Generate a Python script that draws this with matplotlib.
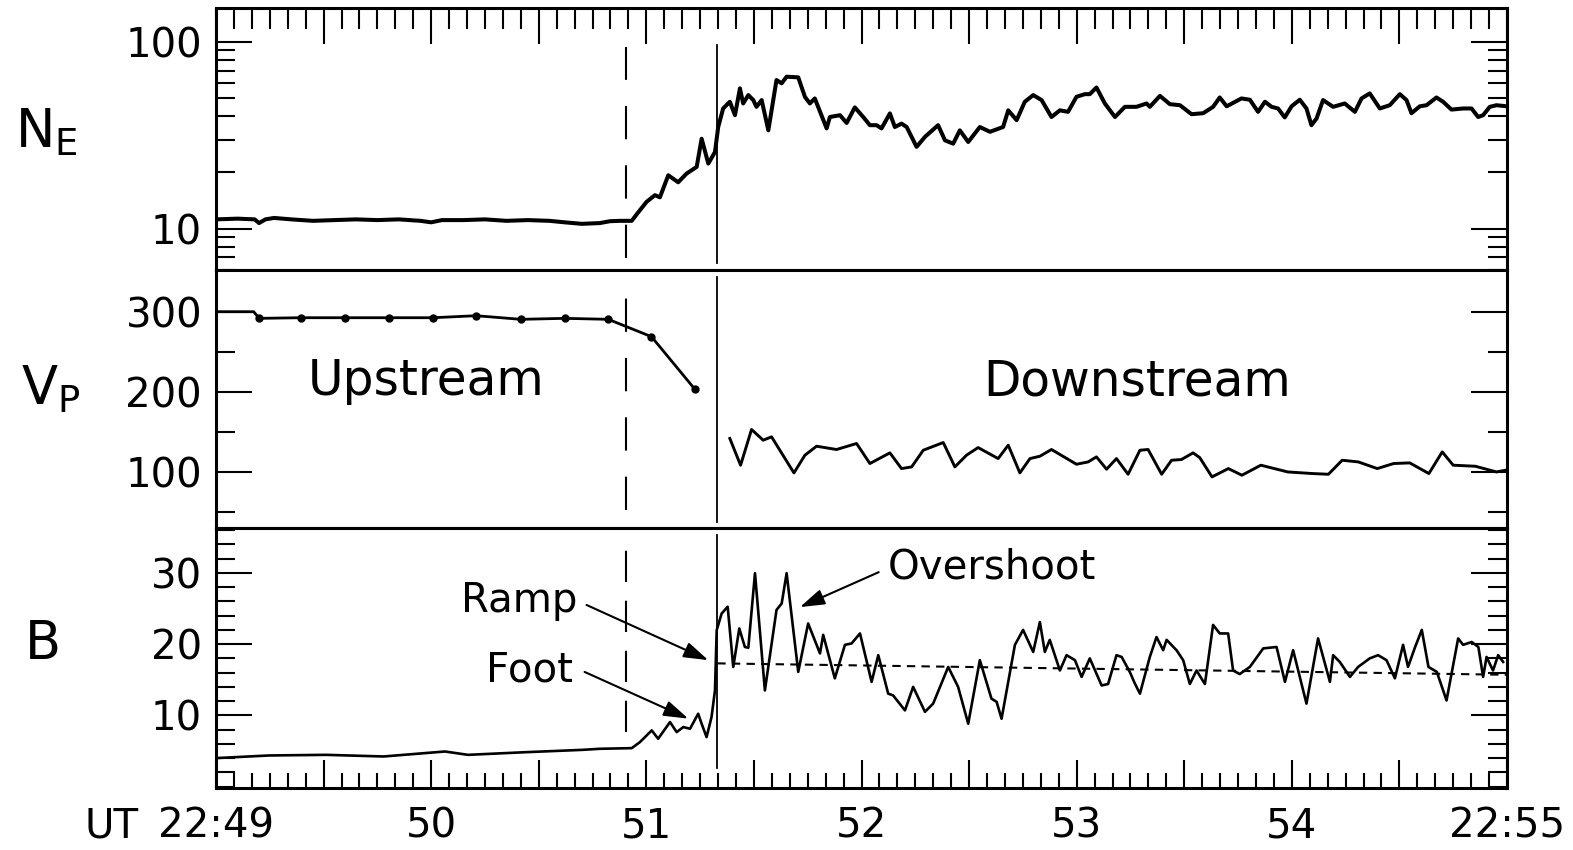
import matplotlib
matplotlib.use("Agg")
from matplotlib import pyplot as plt
from matplotlib.ticker import MultipleLocator, FixedLocator, NullFormatter, FuncFormatter

# time axis: minutes after 22:49 UT
FOOT_T = 1.905   # start of the foot (dashed line)
RAMP_T = 2.33    # shock ramp (solid line)

# electron density N_E
ne_t = [0.0, 0.10, 0.18, 0.20, 0.23, 0.27, 0.35, 0.45, 0.55, 0.65, 0.75, 0.85, 0.95, 1.00,
        1.05, 1.15, 1.25, 1.35, 1.45, 1.55, 1.62, 1.70, 1.784, 1.831, 1.877, 1.932,
        1.962, 2.001, 2.040, 2.063, 2.102, 2.148, 2.187, 2.234, 2.257, 2.288, 2.319, 2.334,
        2.357, 2.388, 2.412, 2.435, 2.450, 2.474, 2.497, 2.512, 2.536, 2.567, 2.605, 2.629,
        2.652, 2.706, 2.737, 2.760, 2.783, 2.838, 2.853, 2.900, 2.931, 2.969, 3.008, 3.039,
        3.070, 3.093, 3.132, 3.155, 3.186, 3.210, 3.256, 3.295, 3.356, 3.388, 3.426, 3.457,
        3.496, 3.550, 3.597, 3.658, 3.682, 3.721, 3.759, 3.798, 3.837, 3.883, 3.922, 3.960,
        3.999, 4.038, 4.061, 4.092, 4.131, 4.178, 4.224, 4.278, 4.325, 4.340, 4.387, 4.433,
        4.480, 4.534, 4.588, 4.634, 4.665, 4.697, 4.766, 4.805, 4.843, 4.875, 4.906, 4.936,
        4.967, 4.999, 5.037, 5.068, 5.091, 5.115, 5.145, 5.192, 5.246, 5.293, 5.324, 5.362,
        5.409, 5.455, 5.502, 5.533, 5.556, 5.595, 5.626, 5.672, 5.703, 5.742, 5.796, 5.835,
        5.866, 5.889, 5.920, 5.951, 6.0]
ne = [11.2, 11.3, 11.2, 10.7, 11.2, 11.4, 11.2, 11.0, 11.1, 11.2, 11.1, 11.2, 11.0, 10.8,
      11.1, 11.1, 11.2, 11.0, 11.1, 11.0, 10.8, 10.6, 10.7, 10.95, 11.0, 11.0,
      12.2, 13.9, 15.1, 14.7, 19.3, 17.7, 19.7, 21.4, 30.3, 22.3, 25.7, 35.0,
      44.0, 47.8, 40.5, 56.4, 46.8, 51.9, 48.8, 44.9, 48.8, 33.6, 62.5, 60.0,
      65.1, 64.6, 50.8, 46.8, 49.8, 34.4, 39.6, 40.5, 36.8, 44.6, 39.6, 35.8,
      35.8, 34.4, 41.4, 35.0, 36.5, 35.0, 27.4, 31.0, 35.8, 29.7, 28.5, 33.6,
      29.1, 35.0, 33.0, 35.0, 43.0, 38.1, 47.8, 51.9, 48.8, 39.6, 43.0, 42.2,
      50.8, 52.5, 52.5, 57.0, 46.8, 39.6, 44.9, 44.9, 46.8, 44.9, 51.4, 46.4,
      45.8, 41.0, 41.5, 44.9, 50.4, 45.2, 49.8, 49.0, 42.2, 47.8, 44.9, 44.0,
      39.4, 45.2, 49.0, 44.0, 35.8, 38.9, 48.8, 44.9, 46.8, 42.2, 49.8, 53.0,
      44.0, 45.8, 52.5, 48.8, 41.5, 45.2, 45.8, 50.4, 47.8, 43.4, 44.0, 44.0,
      39.6, 40.5, 44.9, 45.8, 45.2]

# proton velocity V_P upstream (dots are measurements)
vp_up_t = [0.0, 0.175, 0.201, 0.397, 0.601, 0.806, 1.010, 1.209, 1.416, 1.620, 1.823, 2.024, 2.225]
vp_up = [300, 300, 291.7, 292.5, 292.5, 292.5, 292.5, 295.0, 290.5, 291.7, 290.5, 268.8, 203.4]

# proton velocity downstream
vp_dn_t = [2.388, 2.438, 2.489, 2.543, 2.582, 2.686, 2.737, 2.791, 2.884, 2.977, 3.039, 3.132,
           3.186, 3.233, 3.287, 3.380, 3.434, 3.488, 3.542, 3.635, 3.682, 3.736, 3.783, 3.829,
           3.883, 3.999, 4.053, 4.092, 4.139, 4.185, 4.239, 4.294, 4.332, 4.395, 4.441, 4.487,
           4.541, 4.572, 4.629, 4.705, 4.768, 4.856, 4.981, 5.095, 5.170, 5.234, 5.309, 5.397,
           5.473, 5.548, 5.637, 5.699, 5.750, 5.853, 5.951, 5.99]
vp_dn = [141.8, 108.4, 153.0, 139.6, 143.8, 98.8, 120.9, 132.1, 128.0, 135.5, 110.5, 123.8,
         104.2, 106.3, 127.1, 136.7, 106.3, 120.9, 130.4, 116.7, 133.4, 98.8, 116.7, 119.6,
         128.0, 109.6, 112.5, 118.8, 103.4, 116.7, 97.1, 127.1, 128.0, 97.1, 114.6, 115.5,
         123.8, 117.9, 93.8, 104.2, 95.9, 108.4, 100.0, 98.0, 97.1, 114.6, 112.5, 104.2,
         110.5, 111.3, 98.0, 125.0, 108.4, 107.1, 100.0, 102.0]

# magnetic field B
b_t = [0.0, 0.246, 0.511, 0.779, 1.064, 1.171, 1.437, 1.704, 1.784, 1.932, 1.970, 2.025,
       2.055, 2.110, 2.141, 2.172, 2.203, 2.241, 2.257, 2.280, 2.303, 2.319, 2.327, 2.350,
       2.378, 2.404, 2.432, 2.458, 2.474, 2.505, 2.551, 2.605, 2.629, 2.652, 2.706, 2.752,
       2.807, 2.822, 2.876, 2.923, 2.954, 2.993, 3.047, 3.078, 3.124, 3.147, 3.202, 3.240,
       3.295, 3.333, 3.403, 3.449, 3.496, 3.550, 3.604, 3.628, 3.651, 3.713, 3.751, 3.798,
       3.829, 3.852, 3.875, 3.922, 3.953, 3.992, 4.023, 4.061, 4.116, 4.146, 4.185, 4.209,
       4.247, 4.270, 4.294, 4.340, 4.371, 4.402, 4.418, 4.464, 4.495, 4.526, 4.557, 4.596,
       4.634, 4.665, 4.704, 4.727, 4.758, 4.805, 4.867, 4.929, 4.968, 5.006, 5.068, 5.122,
       5.177, 5.192, 5.223, 5.270, 5.308, 5.362, 5.401, 5.440, 5.479, 5.517, 5.540, 5.573,
       5.604, 5.635, 5.674, 5.719, 5.773, 5.796, 5.836, 5.867, 5.889, 5.905, 5.935, 5.959,
       5.982]
b = [4.0, 4.37, 4.46, 4.23, 4.93, 4.46, 4.83, 5.16, 5.31, 5.4, 6.24, 7.89,
     6.72, 9.06, 7.65, 8.36, 8.12, 10.23, 8.83, 6.95, 9.77, 13.5, 21.97, 24.3,
     25.25, 16.8, 22.2, 19.6, 19.5, 29.96, 13.5, 24.8, 25.7, 29.96, 16.1, 22.9,
     18.7, 21.3, 15.2, 19.9, 20.1, 21.5, 14.7, 18.45, 13.05, 12.8, 10.7, 14.0,
     10.5, 11.65, 16.8, 14.0, 8.83, 17.75, 12.35, 11.9, 9.53, 19.9, 22.0, 18.9,
     23.1, 18.9, 20.6, 16.3, 18.45, 17.75, 15.4, 18.0, 14.2, 14.4, 18.45, 18.2,
     16.1, 14.5, 13.05, 18.2, 21.0, 19.15, 20.6, 19.15, 17.75, 14.4, 16.3, 14.4,
     22.7, 21.5, 21.5, 16.3, 15.8, 16.8, 19.4, 19.6, 14.7, 19.15, 11.65, 20.8,
     14.7, 18.45, 17.5, 15.4, 16.8, 18.0, 18.45, 17.75, 15.2, 19.9, 16.8, 19.6,
     22.0, 16.8, 16.1, 12.1, 20.8, 19.9, 20.3, 19.6, 15.4, 18.2, 16.3, 18.45,
     17.5]

# mean downstream field (dashed)
b_avg_t = [RAMP_T, 6.0]
b_avg = [17.3, 15.7]

x_labels = {0: '22:49', 1: '50', 2: '51', 3: '52', 4: '53', 5: '54', 6: '22:55'}

FS = 29
SPINE = 2.2

fig = plt.figure(figsize=(15.73, 8.5), dpi=100)
left, width = 216 / 1573, 1291 / 1573
ax_n = fig.add_axes([left, 0.6824, width, 0.3082])
ax_v = fig.add_axes([left, 0.3788, width, 0.3035])
ax_b = fig.add_axes([left, 0.0729, width, 0.3059])

for ax in (ax_n, ax_v, ax_b):
    ax.set_xlim(0, 6)
    for s in ax.spines.values():
        s.set_linewidth(SPINE)
    ax.tick_params(axis='y', which='both', direction='in', left=True, right=True,
                   labelleft=True, labelright=False, width=1.5, labelsize=FS, pad=10)
    ax.tick_params(axis='y', which='major', length=26)
    ax.tick_params(axis='y', which='minor', length=14)
    ax.xaxis.set_major_locator(MultipleLocator(0.5))
    ax.xaxis.set_minor_locator(MultipleLocator(1 / 12))

# x ticks: top of upper panel, bottom of lower panel
ax_n.tick_params(axis='x', which='both', direction='in', top=True, bottom=False,
                 labeltop=False, labelbottom=False, width=1.5)
ax_n.tick_params(axis='x', which='major', length=26)
ax_n.tick_params(axis='x', which='minor', length=15)
ax_v.tick_params(axis='x', which='both', top=False, bottom=False, labelbottom=False)
ax_b.tick_params(axis='x', which='both', direction='in', top=False, bottom=True,
                 labelbottom=True, width=1.5, labelsize=FS, pad=13)
ax_b.tick_params(axis='x', which='major', length=20)
ax_b.tick_params(axis='x', which='minor', length=11)
ax_b.xaxis.set_major_formatter(FuncFormatter(
    lambda v, p: x_labels.get(int(round(v)), '') if abs(v - round(v)) < 1e-6 else ''))

# N_E panel
ax_n.plot(ne_t, ne, color='k', lw=2.9, solid_joinstyle='round')
ax_n.set_yscale('log')
ax_n.set_ylim(6, 152)
ax_n.yaxis.set_major_locator(FixedLocator([10, 100]))
ax_n.yaxis.set_major_formatter(FuncFormatter(lambda v, p: f'{v:.0f}'))
ax_n.yaxis.set_minor_locator(FixedLocator([6, 7, 8, 9, 20, 30, 40, 50, 60, 70, 80, 90]))
ax_n.yaxis.set_minor_formatter(NullFormatter())

# V_P panel
ax_v.plot(vp_up_t, vp_up, color='k', lw=2, marker='o', ms=5, markevery=slice(2, None))
ax_v.plot(vp_dn_t, vp_dn, color='k', lw=2.1, solid_joinstyle='round')
ax_v.set_ylim(30, 352)
ax_v.set_yticks([100, 200, 300])
ax_v.yaxis.set_minor_locator(FixedLocator([50, 150, 250]))
ax_v.text(0.976, 196, 'Upstream', ha='center', va='baseline', fontsize=35)
ax_v.text(4.28, 196, 'Downstream', ha='center', va='baseline', fontsize=35)

# B panel
ax_b.plot(b_t, b, color='k', lw=1.9, solid_joinstyle='round')
ax_b.plot(b_avg_t, b_avg, color='k', lw=1.5, ls=(0, (4, 3)))
ax_b.set_ylim(-0.2, 36.3)
ax_b.set_yticks([10, 20, 30])
ax_b.yaxis.set_minor_locator(MultipleLocator(2))

# foot / ramp markers
dash = (0, (16, 12.5))
ax_n.axvline(FOOT_T, 0.046, 0.851, color='k', lw=1.5, ls=dash)
ax_n.axvline(RAMP_T, 0.027, 0.859, color='k', lw=1.3)
ax_v.axvline(FOOT_T, 0.07, 0.95, color='k', lw=1.5, ls=dash)
ax_v.axvline(RAMP_T, 0.023, 0.973, color='k', lw=1.3)
ax_b.axvline(FOOT_T, 0.215, 0.954, color='k', lw=1.5, ls=(0, (15, 9)))
ax_b.axvline(RAMP_T, 0.077, 0.973, color='k', lw=1.3)

arrow = dict(arrowstyle='-|>,head_length=1.0,head_width=0.32', color='k', lw=1.5,
             mutation_scale=15, shrinkA=0, shrinkB=0)
ax_b.text(1.678, 24.5, 'Ramp', ha='right', va='baseline', fontsize=FS)
ax_b.text(1.659, 14.7, 'Foot', ha='right', va='baseline', fontsize=FS)
ax_b.text(3.123, 29.25, 'Overshoot', ha='left', va='baseline', fontsize=FS)
ax_b.annotate('', xy=(2.288, 17.75), xytext=(1.722, 25.5), arrowprops=arrow)
ax_b.annotate('', xy=(2.195, 9.54), xytext=(1.713, 16.1), arrowprops=arrow)
ax_b.annotate('', xy=(2.714, 25.2), xytext=(3.08, 30.1), arrowprops=arrow)

# panel names
fig.text(0.0297, 0.844, r'$\mathregular{N_E}$', ha='center', va='center', fontsize=38)
fig.text(0.0325, 0.542, r'$\mathregular{V_P}$', ha='center', va='center', fontsize=38)
fig.text(0.0271, 0.242, 'B', ha='center', va='center', fontsize=38)
fig.text(139 / 1573, 1 - 806 / 850, 'UT', ha='right', va='top', fontsize=FS)

fig.savefig('out.png', dpi=100)
